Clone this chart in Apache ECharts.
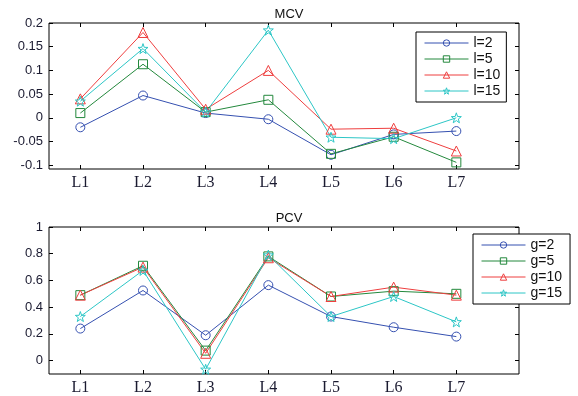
<!DOCTYPE html>
<html>
<head>
<meta charset="utf-8">
<script src="https://cdn.jsdelivr.net/npm/echarts@6/dist/echarts.min.js"></script>
<style>
  html, body { margin: 0; padding: 0; background: #fff; }
  #chart { width: 578px; height: 396px; }
</style>
</head>
<body>
<div id="chart"></div>
<script>
// x positions of the categories L1..L7
var positions = [1, 2, 3, 4, 5, 6, 7];
var mcvTicks = [-0.1, -0.05, 0, 0.05, 0.1, 0.15, 0.2];
var pcvTicks = [0, 0.2, 0.4, 0.6, 0.8, 1];

// MCV (top)
var mcvNames = ['l=2', 'l=5', 'l=10', 'l=15'];
var mcv_l2  = [-0.020, 0.047, 0.010, -0.003, -0.078, -0.035, -0.028];
var mcv_l5  = [0.010, 0.113, 0.012, 0.038, -0.076, -0.040, -0.094];
var mcv_l10 = [0.040, 0.180, 0.018, 0.100, -0.024, -0.022, -0.070];
var mcv_l15 = [0.035, 0.146, 0.012, 0.185, -0.041, -0.044, 0.000];

// PCV (bottom)
var pcvNames = ['g=2', 'g=5', 'g=10', 'g=15'];
var pcv_g2  = [0.24, 0.525, 0.19, 0.565, 0.33, 0.25, 0.18];
var pcv_g5  = [0.49, 0.71, 0.075, 0.78, 0.48, 0.52, 0.50];
var pcv_g10 = [0.49, 0.70, 0.055, 0.77, 0.48, 0.55, 0.49];
var pcv_g15 = [0.33, 0.675, -0.065, 0.79, 0.33, 0.48, 0.29];

var colors = ['#3550b0', '#23883c', '#ee3e3e', '#2cc6c6'];
var star = 'path://M0,-10 L2.35,-3.24 L9.51,-3.09 L3.8,1.24 L5.88,8.09 L0,4 L-5.88,8.09 L-3.8,1.24 L-9.51,-3.09 L-2.35,-3.24 Z';
var symbols = ['circle', 'rect', 'triangle', star];
var sizes = [9, 9, 10, 10];

function pts(vals) {
  return positions.map(function (p, i) { return [p, vals[i]]; });
}

function mkSeries(names, sets, gi) {
  return names.map(function (n, i) {
    return {
      name: n, type: 'line', xAxisIndex: gi * 2, yAxisIndex: gi * 2,
      data: pts(sets[i]), color: colors[i],
      symbol: symbols[i], symbolSize: sizes[i],
      lineStyle: { width: 1, color: colors[i] },
      itemStyle: { color: 'rgba(255,255,255,0)', borderColor: colors[i], borderWidth: 1 },
      emphasis: { disabled: true }, animation: false
    };
  });
}

function fmt(v) { return String(+(+v).toFixed(2)); }

function xAxes(gi) {
  var base = {
    type: 'value', gridIndex: gi, min: 0.5, max: 8,
    axisLine: { show: false, onZero: false }, splitLine: { show: false },
    axisTick: { inside: true, length: 4, customValues: positions, lineStyle: { color: '#000' } }
  };
  return [
    Object.assign({}, base, { position: 'bottom',
      axisLabel: { customValues: positions, formatter: function (v) { return 'L' + v; },
        fontFamily: 'Liberation Serif', fontSize: 16, color: '#1a1a30', margin: 6 } }),
    Object.assign({}, base, { position: 'top', axisLabel: { show: false } })
  ];
}

function yAxes(gi, min, max, ticks) {
  var base = {
    type: 'value', gridIndex: gi, min: min, max: max,
    axisLine: { show: false, onZero: false }, splitLine: { show: false },
    axisTick: { inside: true, length: 4, customValues: ticks, lineStyle: { color: '#000' } }
  };
  return [
    Object.assign({}, base, { position: 'left',
      axisLabel: { customValues: ticks, formatter: fmt,
        fontFamily: 'Liberation Sans', fontSize: 13, color: '#1a1a30', margin: 6 } }),
    Object.assign({}, base, { position: 'right', axisLabel: { show: false } })
  ];
}

var legendBase = {
  orient: 'vertical', itemWidth: 44, itemHeight: 8, itemGap: 2,
  backgroundColor: '#fff', borderColor: '#000', borderWidth: 1, padding: [4, 6, 4, 8],
  lineStyle: { width: 1 },
  itemStyle: { color: 'rgba(255,255,255,0)', borderWidth: 1 },
  textStyle: { fontFamily: 'Liberation Sans', fontSize: 14, lineHeight: 13, color: '#111' }
};

var chart = echarts.init(document.getElementById('chart'));
chart.setOption({
  animation: false,
  title: [
    { text: 'MCV', left: 284, top: 3, textAlign: 'center',
      textStyle: { fontFamily: 'Liberation Sans', fontSize: 13, fontWeight: 'normal', color: '#111' } },
    { text: 'PCV', left: 284, top: 207, textAlign: 'center',
      textStyle: { fontFamily: 'Liberation Sans', fontSize: 13, fontWeight: 'normal', color: '#111' } }
  ],
  grid: [
    { left: 49, right: 59, top: 23, height: 146, show: true, borderColor: '#000', borderWidth: 1 },
    { left: 49, right: 59, top: 227, height: 147, show: true, borderColor: '#000', borderWidth: 1 }
  ],
  legend: [
    Object.assign({}, legendBase, { data: mcvNames, left: 416, top: 32 }),
    Object.assign({}, legendBase, { data: pcvNames, left: 473, top: 234, padding: [4, 8, 4, 8] })
  ],
  xAxis: xAxes(0).concat(xAxes(1)),
  yAxis: yAxes(0, -0.108, 0.2, mcvTicks).concat(yAxes(1, -0.1, 1, pcvTicks)),
  series: mkSeries(mcvNames, [mcv_l2, mcv_l5, mcv_l10, mcv_l15], 0)
    .concat(mkSeries(pcvNames, [pcv_g2, pcv_g5, pcv_g10, pcv_g15], 1))
});
</script>
</body>
</html>
